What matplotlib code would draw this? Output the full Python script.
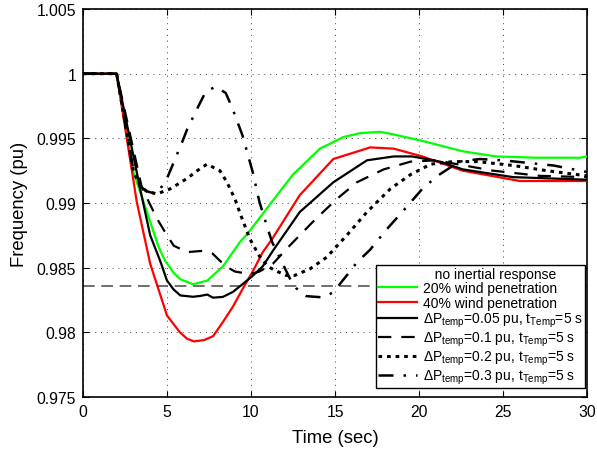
import numpy as np
import matplotlib
matplotlib.use("Agg")
import matplotlib.pyplot as plt

plt.rcParams['font.family'] = ['Liberation Sans', 'DejaVu Sans']
plt.rcParams['mathtext.fontset'] = 'custom'
plt.rcParams['mathtext.rm'] = 'Liberation Sans'

# dati
t_20 = [0, 2, 3, 3.6, 4.5, 4.9, 5.4, 5.8, 6.55, 7.4, 8.33, 9.35, 9.9, 11.25, 12.5, 14.1, 15.5, 16.5, 17.7, 18.5, 20.2, 22.6, 24.6, 27, 29.6, 30]
f_20 = [1, 1, 0.9924, 0.9901, 0.9866, 0.9855, 0.9846, 0.9841, 0.98372, 0.9840, 0.9851, 0.9870, 0.9878, 0.9901, 0.9922, 0.9942, 0.9951, 0.9954, 0.9955, 0.9953, 0.9948, 0.9940, 0.9936, 0.9935, 0.9935, 0.9936]

t_40 = [0, 2, 3.2, 4, 5, 5.77, 6.2, 6.6, 7.2, 7.74, 8.33, 8.93, 9.52, 10.1, 10.7, 11.25, 12.9, 14.9, 17.1, 18.5, 20.2, 22.6, 26, 30]
f_40 = [1, 1, 0.9901, 0.9853, 0.9813, 0.9800, 0.9795, 0.9793, 0.9794, 0.9797, 0.9808, 0.9820, 0.9834, 0.9847, 0.9862, 0.9872, 0.9906, 0.9934, 0.9943, 0.9942, 0.9936, 0.9925, 0.9917, 0.9917]

t_005 = [0, 2, 3.4, 4, 4.6, 5, 5.4, 5.8, 6.55, 7.0, 7.4, 7.74, 8.33, 8.93, 9.52, 10.1, 10.7, 11.3, 12.9, 14.9, 16.9, 18.5, 19.6, 21.25, 22.6, 25.6, 30]
f_005 = [1, 1, 0.9911, 0.9875, 0.9855, 0.9840, 0.9833, 0.98285, 0.98275, 0.98282, 0.98292, 0.98268, 0.98274, 0.98313, 0.98375, 0.98437, 0.9851, 0.9863, 0.9893, 0.9916, 0.9933, 0.9936, 0.9936, 0.9932, 0.9926, 0.9920, 0.9918]

t_01 = [0, 2, 3.5, 4.4, 5, 5.4, 6.2, 7.1, 7.7, 8.5, 9.05, 9.94, 10.5, 11.3, 12.3, 13.8, 15.1, 16.3, 17.9, 19.5, 21, 24.4, 27.2, 30]
f_01 = [1, 1, 0.9912, 0.9888, 0.9875, 0.9867, 0.9862, 0.9863, 0.9861, 0.9851, 0.9847, 0.9845, 0.9847, 0.9853, 0.9867, 0.9887, 0.9903, 0.9916, 0.9926, 0.9932, 0.9933, 0.9925, 0.9921, 0.9920]

t_02 = [0, 2, 3, 3.4, 3.8, 4.4, 5.2, 6.2, 6.8, 7.38, 8.15, 8.57, 9.05, 9.35, 9.94, 10.5, 11.0, 11.4, 12.1, 12.6, 13.5, 14.5, 15.7, 16.9, 18.3, 19.5, 20.7, 22, 23.5, 25.6, 27.6, 30]
f_02 = [1, 1, 0.9925, 0.9913, 0.9909, 0.9907, 0.9911, 0.9919, 0.9925, 0.9930, 0.9925, 0.9916, 0.9903, 0.9892, 0.9872, 0.9859, 0.9851, 0.9848, 0.9844, 0.9844, 0.9849, 0.9858, 0.9875, 0.9893, 0.9911, 0.9922, 0.9930, 0.9932, 0.9932, 0.9929, 0.9925, 0.9921]

t_03 = [0, 2, 3, 3.4, 3.8, 4.4, 5, 5.9, 6.2, 6.8, 7.3, 7.9, 8.5, 8.9, 9.5, 10.1, 10.5, 10.95, 11.25, 12.3, 12.7, 13.3, 14.3, 14.9, 15.7, 16.3, 17.1, 18.1, 19.2, 20.2, 21.1, 22.4, 23.6, 25, 28, 30]
f_03 = [1, 1, 0.9925, 0.9913, 0.9909, 0.9907, 0.9919, 0.9947, 0.9957, 0.9973, 0.9986, 0.9990, 0.9985, 0.9973, 0.9952, 0.9924, 0.9901, 0.9882, 0.9870, 0.9842, 0.9834, 0.9828, 0.9827, 0.9831, 0.9844, 0.9854, 0.9864, 0.9880, 0.9896, 0.9911, 0.9921, 0.9932, 0.9934, 0.9933, 0.9929, 0.9924]

f_rif = 0.98357

xt = [0, 5, 10, 15, 20, 25, 30]
yt = [0.975, 0.98, 0.985, 0.99, 0.995, 1.0, 1.005]
yt_lab = ['0.975', '0.98', '0.985', '0.99', '0.995', '1', '1.005']

fig = plt.figure(figsize=(5.97, 4.52), dpi=100)
ax = fig.add_axes([83/597, 1-398/452, 504/597, 388/452])

ax.axhline(f_rif, color='#555555', lw=1.2, ls=(0, (7, 4)), zorder=2)
# voce senza simbolo per il titolo della legenda
ax.plot([], [], color='none', label='   no inertial response')
ax.plot(t_20, f_20, color='#00ff00', lw=1.6, label='20% wind penetration', zorder=3)
ax.plot(t_40, f_40, color='#ff0000', lw=1.6, label='40% wind penetration', zorder=3)
ax.plot(t_005, f_005, color='k', lw=1.6,
        label=r'$\Delta$P$_{\mathrm{temp}}$=0.05 pu, t$_{\mathrm{Temp}}$=5 s', zorder=4)
ax.plot(t_01, f_01, color='k', lw=1.6, ls=(0, (6, 4.5)),
        label=r'$\Delta$P$_{\mathrm{temp}}$=0.1 pu, t$_{\mathrm{Temp}}$=5 s', zorder=4)
ax.plot(t_02, f_02, color='k', lw=2.2, ls=(0, (1.2, 1.6)),
        label=r'$\Delta$P$_{\mathrm{temp}}$=0.2 pu, t$_{\mathrm{Temp}}$=5 s', zorder=4)
ax.plot(t_03, f_03, color='k', lw=1.8, ls=(0, (6, 4, 1, 4)),
        label=r'$\Delta$P$_{\mathrm{temp}}$=0.3 pu, t$_{\mathrm{Temp}}$=5 s', zorder=4)

ax.set_xlim(0, 30)
ax.set_ylim(0.975, 1.005)
ax.set_xticks(xt)
ax.set_yticks(yt)
ax.set_yticklabels(yt_lab)
ax.tick_params(direction='in', top=True, right=True, labelsize=11.3, length=4, pad=5)
ax.grid(True, color='#444444', ls=(0, (1, 5)), lw=0.7)
for s in ax.spines.values():
    s.set_linewidth(1.2)

ax.set_xlabel('Time (sec)', fontsize=13.3, labelpad=7)
ax.set_ylabel('Frequency (pu)', fontsize=13.3, labelpad=6)

leg = ax.legend(loc='lower right', bbox_to_anchor=(0.996, 0.023), borderaxespad=0,
                fontsize=10, frameon=True, fancybox=False, edgecolor='k', framealpha=1,
                handlelength=2.8, labelspacing=0.05, borderpad=0.15, handletextpad=0.4)
leg.get_frame().set_linewidth(1.0)

fig.savefig('out.png', dpi=100)
